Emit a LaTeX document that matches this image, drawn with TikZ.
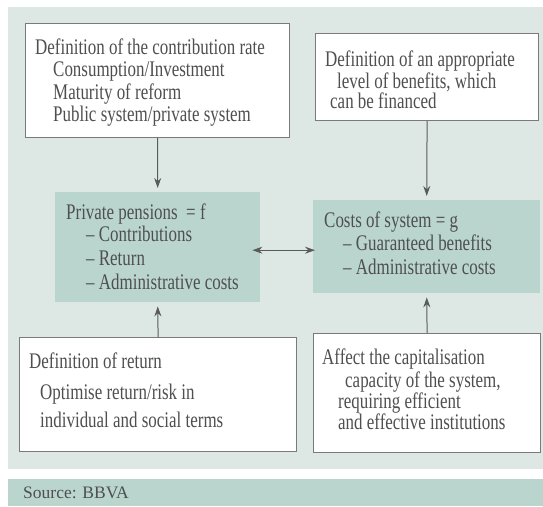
\documentclass[tikz,border=0pt]{standalone}
\usepackage{fontspec}
\setmainfont{Liberation Serif}[FakeStretch=0.76]
\newfontfamily\srcfont{Liberation Serif}
\usetikzlibrary{arrows.meta}
\definecolor{panel}{HTML}{DDE8E4}
\definecolor{mint}{HTML}{BAD5CE}
\definecolor{ink}{HTML}{4F4F4F}
\definecolor{edge}{HTML}{7A7A7A}
\definecolor{arr}{HTML}{5A5A5A}
\begin{document}
\begin{tikzpicture}[x=1pt,y=-1pt,
  wbox/.style={draw=edge,line width=1.2pt,fill=white,inner sep=0,anchor=north west},
  gbox/.style={fill=mint,inner sep=0,anchor=north west},
  txt/.style={anchor=base west,inner sep=0,text=ink,font=\fontsize{22.3}{24}\selectfont},
  conn/.style={draw=arr,line width=1pt,-{Stealth[length=10pt,width=7pt]},shorten >=4pt}]
\useasboundingbox (0,0) rectangle (543,506);
\fill[white] (0,0) rectangle (543,506);
\fill[panel] (8,7) rectangle (543,469);
\fill[mint] (8,479) rectangle (543,506);
% boxes
\node[wbox,minimum width=264pt,minimum height=114pt] (b1) at (25,23) {};
\node[wbox,minimum width=223pt,minimum height=87pt] (b2) at (315,33) {};
\node[gbox,minimum width=205pt,minimum height=110pt] (gl) at (55,192) {};
\node[gbox,minimum width=227pt,minimum height=93pt] (gr) at (313,200) {};
\node[wbox,minimum width=277pt,minimum height=114pt] (b3) at (19,337) {};
\node[wbox,minimum width=227pt,minimum height=119pt] (b4) at (313,333) {};
% texts box 1
\node[txt] (t11) at (35,54) {Definition of the contribution rate};
\node[txt] (t12) at (53,76) {Consumption/Investment};
\node[txt] (t13) at (53,99) {Maturity of reform};
\node[txt] (t14) at (53,121) {Public system/private system};
% box 2
\node[txt] (t21) at (325,66) {Definition of an appropriate};
\node[txt] (t22) at (337,88) {level of benefits, which};
\node[txt] (t23) at (330,108) {can be financed};
% green left
\node[txt] (t31) at (66,219) {Private pensions \ = f};
\node[txt] (t32) at (86,241) {– Contributions};
\node[txt] (t33) at (86,265) {– Return};
\node[txt] (t34) at (86,289) {– Administrative costs};
% green right
\node[txt] (t41) at (324,227) {Costs of system = g};
\node[txt] (t42) at (343,250) {– Guaranteed benefits};
\node[txt] (t43) at (343,274) {– Administrative costs};
% box 3
\node[txt] (t51) at (29,368) {Definition of return};
\node[txt] (t52) at (40,399) {Optimise return/risk in};
\node[txt] (t53) at (40,427) {individual and social terms};
% box 4
\node[txt] (t61) at (322,364) {Affect the capitalisation};
\node[txt] (t62) at (345,387) {capacity of the system,};
\node[txt] (t63) at (338,408) {requiring efficient};
\node[txt] (t64) at (338,429) {and effective institutions};
% source
\node[txt,font=\srcfont\fontsize{17.5}{20}\selectfont] (src) at (23,498) {Source: BBVA};
% connectors
\draw[conn] (b1.south) -- (gl.north);
\draw[conn] (b2.south) -- (gr.north);
\draw[conn] (b3.north) -- (gl.south);
\draw[conn] (b4.north) -- (gr.south);
\draw[conn,{Stealth[length=10pt,width=7pt]}-{Stealth[length=10pt,width=7pt]},shorten >=-2pt,shorten <=-8pt]
  ([yshift=-3pt]gl.east) -- ([yshift=-3.5pt]gr.west);
\end{tikzpicture}
\end{document}
